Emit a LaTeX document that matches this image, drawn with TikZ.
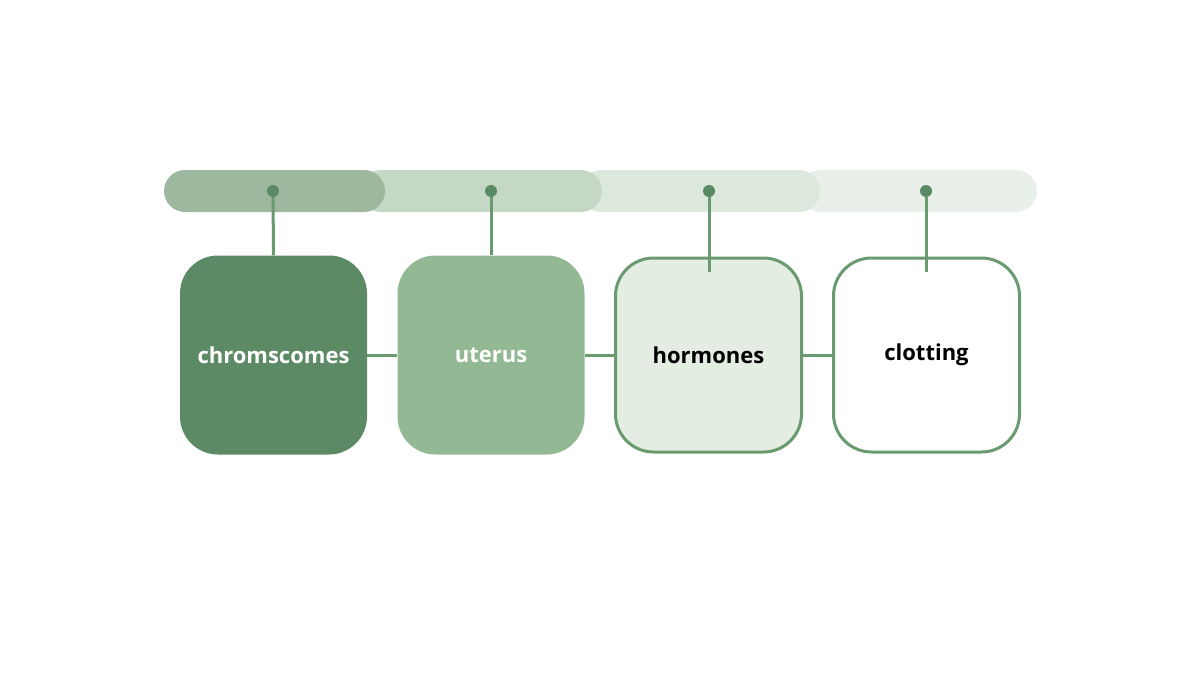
\documentclass[tikz,border=0pt]{standalone}
\usepackage{fontspec}
\setmainfont{Open Sans}
\begin{document}
\begin{tikzpicture}[x=1pt,y=-1pt,
  seg/.style={rounded corners=21pt},
  dot/.style={circle,fill=dotc,inner sep=0,minimum size=12pt},
  box/.style={rounded corners=38pt,minimum width=187pt,minimum height=199pt,font=\bfseries\fontsize{22}{24}\selectfont},
  link/.style={draw=linec,line width=3pt}]
\definecolor{s1}{HTML}{9DB89F}\definecolor{s2}{HTML}{C5D8C6}
\definecolor{s3}{HTML}{DCE8DC}\definecolor{s4}{HTML}{E9F0E9}
\definecolor{dotc}{HTML}{5A8A64}\definecolor{linec}{HTML}{6A9A70}
\definecolor{b1}{HTML}{5C8A65}\definecolor{b2}{HTML}{93B994}\definecolor{b3}{HTML}{E3EDE2}
\useasboundingbox[fill=white] (0,0) rectangle (1200,677);
\fill[s4,seg] (800,170) rectangle (1037,212);
\fill[s3,seg] (580,170) rectangle (820,212);
\fill[s2,seg] (360,170) rectangle (602,212);
\fill[s1,seg] (164,170) rectangle (385,212);
\node[dot] (d1) at (273,191) {};
\node[dot] (d2) at (491,191) {};
\node[dot] (d3) at (709,191) {};
\node[dot] (d4) at (926,191) {};
\coordinate (e3) at (709,272);
\coordinate (e4) at (926,272);
\node[box,fill=b1,text=white] (n1) at (273.5,355) {chromscomes};
\node[box,fill=b2,text=white] (n2) at (491,355) {uterus};
\node[box,fill=b3,draw=linec,line width=3pt,minimum width=186pt,minimum height=194pt] (n3) at (708.5,355) {hormones};
\node[box,fill=white,draw=linec,line width=3pt,minimum width=186pt,minimum height=194pt] (n4) at (926.5,355) {clotting};
\draw[link] (d1) -- (n1.north);
\draw[link] (d2) -- (n2.north);
\draw[link] (d3) -- (e3);
\draw[link] (d4) -- (e4);
\draw[link] (n1.east) -- (n2.west);
\draw[link] (n2.east) -- (n3.west);
\draw[link] (n3.east) -- (n4.west);
\end{tikzpicture}
\end{document}
